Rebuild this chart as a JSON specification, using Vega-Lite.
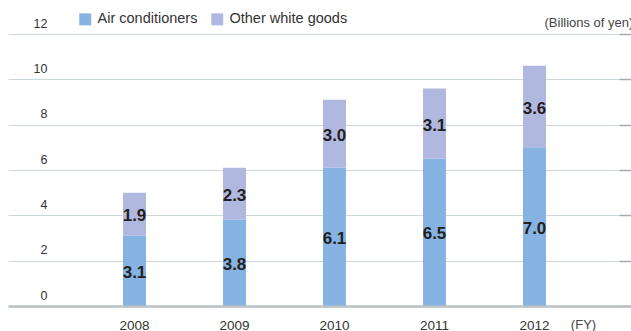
{
  "$schema": "https://vega.github.io/schema/vega-lite/v6.json",
  "width": 623,
  "height": 272,
  "autosize": {"type": "none"},
  "padding": {"left": 8, "top": 34, "right": 0, "bottom": 25},
  "background": "white",
  "config": {
    "view": {"stroke": null},
    "font": "Liberation Sans"
  },
  "data": {
    "values": [
      {"year": "2008", "category": "Air conditioners", "value": 3.1},
      {"year": "2008", "category": "Other white goods", "value": 1.9},
      {"year": "2009", "category": "Air conditioners", "value": 3.8},
      {"year": "2009", "category": "Other white goods", "value": 2.3},
      {"year": "2010", "category": "Air conditioners", "value": 6.1},
      {"year": "2010", "category": "Other white goods", "value": 3.0},
      {"year": "2011", "category": "Air conditioners", "value": 6.5},
      {"year": "2011", "category": "Other white goods", "value": 3.1},
      {"year": "2012", "category": "Air conditioners", "value": 7.0},
      {"year": "2012", "category": "Other white goods", "value": 3.6}
    ]
  },
  "encoding": {
    "x": {
      "field": "year",
      "type": "ordinal",
      "scale": {"paddingInner": 0.77, "paddingOuter": 1.0, "align": 0.575},
      "axis": {
        "title": "(FY)",
        "titleX": 575,
        "titleY": 12,
        "titleAlign": "center",
        "titleBaseline": "top",
        "titleFontSize": 13,
        "titleFontWeight": "normal",
        "titleColor": "#444444",
        "labelAngle": 0,
        "labelFontSize": 13.5,
        "labelColor": "#333333",
        "labelPadding": 12,
        "labelBaseline": "top",
        "ticks": false,
        "tickSize": 0,
        "domain": true,
        "domainColor": "#b7c1c5",
        "domainWidth": 2.5,
        "zindex": 1
      }
    },
    "order": {"field": "category", "type": "ordinal", "sort": "ascending"}
  },
  "layer": [
    {
      "mark": {"type": "bar"},
      "encoding": {
        "y": {
          "field": "value",
          "type": "quantitative",
          "stack": "zero",
          "scale": {"domain": [0, 12], "nice": false},
          "axis": {
            "title": "(Billions of yen)",
            "titleAngle": 0,
            "titleX": 536,
            "titleY": -12,
            "titleAlign": "left",
            "titleBaseline": "middle",
            "titleFontSize": 13,
            "titleFontWeight": "normal",
            "titleColor": "#444444",
            "values": [0, 2, 4, 6, 8, 10, 12],
            "labelAlign": "right",
            "labelBaseline": "middle",
            "labelPadding": -39,
            "labelOffset": -11,
            "labelFontSize": 12.5,
            "labelColor": "#333333",
            "labelBound": false,
            "labelFlush": false,
            "ticks": false,
            "tickSize": 0,
            "domain": false,
            "grid": true,
            "gridColor": "#cdd6da",
            "gridWidth": 1
          }
        },
        "color": {
          "field": "category",
          "type": "nominal",
          "scale": {
            "domain": ["Air conditioners", "Other white goods"],
            "range": ["#86b3e1", "#b1b8e0"]
          },
          "legend": {
            "orient": "none",
            "legendX": 70,
            "legendY": -22,
            "direction": "horizontal",
            "title": null,
            "padding": 0,
            "symbolType": "square",
            "symbolSize": 144,
            "symbolStrokeWidth": 0,
            "symbolOpacity": 1,
            "labelFontSize": 14.5,
            "labelColor": "#333333",
            "labelOffset": 5,
            "columnPadding": 12
          }
        }
      }
    },
    {
      "mark": {
        "type": "text",
        "fontSize": 17,
        "fontWeight": "bold",
        "color": "#231f20",
        "baseline": "middle",
        "align": "center",
        "dy": 2
      },
      "encoding": {
        "y": {
          "field": "value",
          "type": "quantitative",
          "stack": "zero",
          "bandPosition": 0.5,
          "scale": {"domain": [0, 12], "nice": false},
          "axis": {
            "orient": "right",
            "title": null,
            "values": [0, 2, 4, 6, 8, 10, 12],
            "labels": false,
            "ticks": true,
            "tickSize": -12,
            "tickColor": "#a3adb1",
            "tickWidth": 1.5,
            "domain": false,
            "grid": false
          }
        },
        "detail": {"field": "category", "type": "nominal"},
        "text": {"field": "value", "type": "quantitative", "format": ".1f"}
      }
    }
  ],
  "resolve": {"scale": {"y": "independent"}, "axis": {"y": "independent"}}
}
